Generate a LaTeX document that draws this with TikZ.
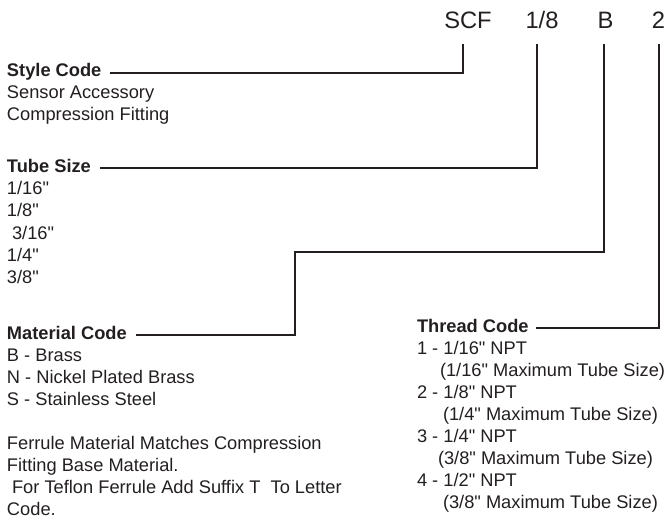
\documentclass[tikz,border=0pt]{standalone}
\usepackage{fontspec}
\setmainfont{Liberation Sans}[Ligatures=TeXOff]
\usetikzlibrary{calc}
\definecolor{ink}{HTML}{231F20}
\begin{document}
\begin{tikzpicture}[x=0.75pt,y=-0.75pt,
  every node/.style={inner sep=0pt, outer sep=0pt, text=ink, font=\fontsize{13.7}{16.5}\selectfont},
  head/.style={anchor=base west, font=\fontsize{13.7}{16.5}\selectfont\bfseries},
  body/.style={anchor=base west},
  codetxt/.style={anchor=base, font=\fontsize{17.8}{20}\selectfont},
  leader/.style={draw=ink, line width=1.5pt}]
\useasboundingbox (0,0) rectangle (665,517);

% top code
\node[codetxt] (scf) at (468,29) {SCF};
\node[codetxt] (size) at (542,29) {1/8};
\node[codetxt] (matl) at (605.5,29) {B};
\node[codetxt] (thr) at (658.5,29) {2};
\coordinate (scfpin) at (463,44);
\coordinate (sizepin) at (537,44);
\coordinate (matlpin) at (604,44);
\coordinate (thrpin) at (659,44);
\coordinate (matknee) at (295,252);

% style code
\node[head] (style) at (7,77) {Style Code};
\node[body] (s1) at (7,99) {Sensor Accessory};
\node[body] (s2) at (7,121) {Compression Fitting};

% tube size
\node[head] (tube) at (7,173) {Tube Size};
\node[body] (t1) at (7,195) {1/16"};
\node[body] (t2) at (7,217) {1/8"};
\node[body] (t3) at (7,239) {\ 3/16"};
\node[body] (t4) at (7,261) {1/4"};
\node[body] (t5) at (7,283) {3/8"};

% material code
\node[head] (mat) at (7,339) {Material Code};
\node[body] (m1) at (7,361) {B - Brass};
\node[body] (m2) at (7,383) {N - Nickel Plated Brass};
\node[body] (m3) at (7,405) {S - Stainless Steel};
\node[body] (f1) at (7,449) {Ferrule Material Matches Compression};
\node[body] (f2) at (7,471) {Fitting Base Material.};
\node[body] (f3) at (7,493) {\ For Teflon Ferrule Add Suffix T\ \ To Letter};
\node[body] (f4) at (7,515) {Code.};

% thread code
\node[head] (thread) at (417,332) {Thread Code};
\node[body] (h1) at (417,354) {1 - 1/16" NPT};
\node[body] (h1b) at (440,376) {(1/16" Maximum Tube Size)};
\node[body] (h2) at (417,398) {2 - 1/8" NPT};
\node[body] (h2b) at (443,420) {(1/4" Maximum Tube Size)};
\node[body] (h3) at (417,442) {3 - 1/4" NPT};
\node[body] (h3b) at (438,464) {(3/8" Maximum Tube Size)};
\node[body] (h4) at (417,486) {4 - 1/2" NPT};
\node[body] (h4b) at (443,508) {(3/8" Maximum Tube Size)};

% leaders
\draw[leader] ($(style.base east)+(9,-3.5)$) -| (scfpin);
\draw[leader] ($(tube.base east)+(9,-4.5)$) -| (sizepin);
\draw[leader] ($(mat.base east)+(9,-4.5)$) -| (matknee) -| (matlpin);
\draw[leader] ($(thread.base east)+(7,-4.5)$) -| (thrpin);
\end{tikzpicture}
\end{document}
